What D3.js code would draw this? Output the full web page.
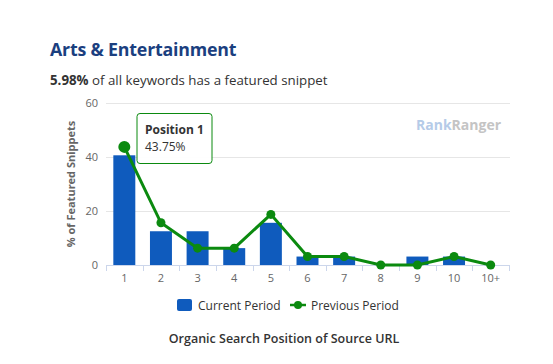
<!DOCTYPE html>
<html><head><meta charset="utf-8">
<script src="https://cdn.jsdelivr.net/npm/d3@7"></script>
<style>body{margin:0;background:#fff;font-family:"Open Sans",sans-serif;}</style>
</head><body>
<script>
const categories = ["1","2","3","4","5","6","7","8","9","10","10+"];
const currentPeriod = [40.63,12.5,12.5,6.25,15.63,3.13,3.13,0,3.13,3.13,0];
const previousPeriod = [43.75,15.63,6.25,6.25,18.75,3.13,3.13,0,0,3.13,0];
const yTicks = [0,20,40,60];

(function(){
const W=553,H=364;
const svg=d3.select("body").append("svg").attr("width",W).attr("height",H).style("font-family","'Open Sans',sans-serif");
const pL=106,pR=509,pT=103,pB=265;
const x=d3.scaleBand().domain(categories).range([pL,pR]).paddingInner(0.4).paddingOuter(0.2);
const xb=d3.scaleBand().domain(categories).range([pL,pR]);
const y=d3.scaleLinear().domain([0,60]).range([pB,pT]);

svg.append("text").attr("x",50).attr("y",56).attr("fill","#1b3f7f").attr("font-size",17.8).attr("font-weight",700).attr("letter-spacing",-0.2).text("Arts & Entertainment");
const sub=svg.append("text").attr("x",50).attr("y",85).attr("fill","#333").attr("font-size",13.3);
sub.append("tspan").attr("font-weight",700).text("5.98%");
sub.append("tspan").text(" of all keywords has a featured snippet");

svg.append("g").selectAll("line").data(yTicks.filter(d=>d>0)).join("line")
 .attr("x1",pL).attr("x2",pR+1).attr("y1",d=>y(d)+0.5).attr("y2",d=>y(d)+0.5).attr("stroke","#e6e6e6");
svg.append("g").selectAll("text").data(yTicks).join("text")
 .attr("x",98).attr("y",d=>y(d)+4).attr("text-anchor","end").attr("font-size",11).attr("fill","#666").text(d=>d);
svg.append("text").attr("transform",`translate(75,${(pT+pB)/2}) rotate(-90)`).attr("text-anchor","middle")
 .attr("font-size",11).attr("font-weight",700).attr("fill","#666").text("% of Featured Snippets");

const wm=svg.append("text").attr("x",416).attr("y",130).attr("font-size",14).attr("font-weight",700);
wm.append("tspan").attr("fill","#b5cbe8").text("Rank");
wm.append("tspan").attr("fill","#c4c4c4").text("Ranger");

svg.append("g").selectAll("rect").data(categories).join("rect")
 .attr("x",(d)=>x(d)).attr("width",x.bandwidth())
 .attr("y",(d,i)=>y(currentPeriod[i])).attr("height",(d,i)=>pB-y(currentPeriod[i])).attr("fill","#0f5bbd");

svg.append("line").attr("x1",pL).attr("x2",pR+1).attr("y1",pB+0.5).attr("y2",pB+0.5).attr("stroke","#ccd6eb");
const bounds=categories.map(c=>xb(c)).concat([pR]);
svg.append("g").selectAll("line").data(bounds).join("line")
 .attr("x1",d=>Math.round(d)+0.5).attr("x2",d=>Math.round(d)+0.5).attr("y1",pB).attr("y2",pB+6).attr("stroke","#ccd6eb");
svg.append("g").selectAll("text").data(categories).join("text")
 .attr("x",d=>xb(d)+xb.bandwidth()/2).attr("y",pB+17).attr("text-anchor","middle").attr("font-size",11).attr("fill","#666").text(d=>d);

const cx=d=>xb(d)+xb.bandwidth()/2;
const line=d3.line().x((d,i)=>cx(categories[i])).y(d=>y(d));
svg.append("path").datum(previousPeriod).attr("d",line).attr("fill","none").attr("stroke","#0b8a0f").attr("stroke-width",3);
svg.append("g").selectAll("circle").data(previousPeriod).join("circle")
 .attr("cx",(d,i)=>cx(categories[i])).attr("cy",d=>y(d)).attr("r",(d,i)=>i===0?6:4.5).attr("fill","#0b8a0f");

const tt=svg.append("g");
tt.append("rect").attr("x",137).attr("y",113.5).attr("width",75).attr("height",50).attr("rx",3).attr("fill","#fff").attr("fill-opacity",0.95).attr("stroke","#0b8a0f");
tt.append("text").attr("x",145).attr("y",134).attr("font-size",12).attr("font-weight",700).attr("fill","#333").text("Position "+categories[0]);
tt.append("text").attr("x",145).attr("y",151).attr("font-size",12).attr("fill","#333").text(previousPeriod[0].toFixed(2)+"%");

svg.append("rect").attr("x",177).attr("y",299).attr("width",15).attr("height",12).attr("rx",2).attr("fill","#0f5bbd");
svg.append("text").attr("x",198).attr("y",310).attr("font-size",12).attr("fill","#333").text("Current Period");
svg.append("line").attr("x1",290).attr("x2",306).attr("y1",305).attr("y2",305).attr("stroke","#0b8a0f").attr("stroke-width",2.5);
svg.append("circle").attr("cx",298).attr("cy",305).attr("r",4).attr("fill","#0b8a0f");
svg.append("text").attr("x",311).attr("y",310).attr("font-size",12).attr("fill","#333").text("Previous Period");

svg.append("text").attr("x",284).attr("y",343).attr("text-anchor","middle").attr("font-size",12.5).attr("font-weight",600).attr("fill","#333").text("Organic Search Position of Source URL");
})();
</script>
</body></html>
